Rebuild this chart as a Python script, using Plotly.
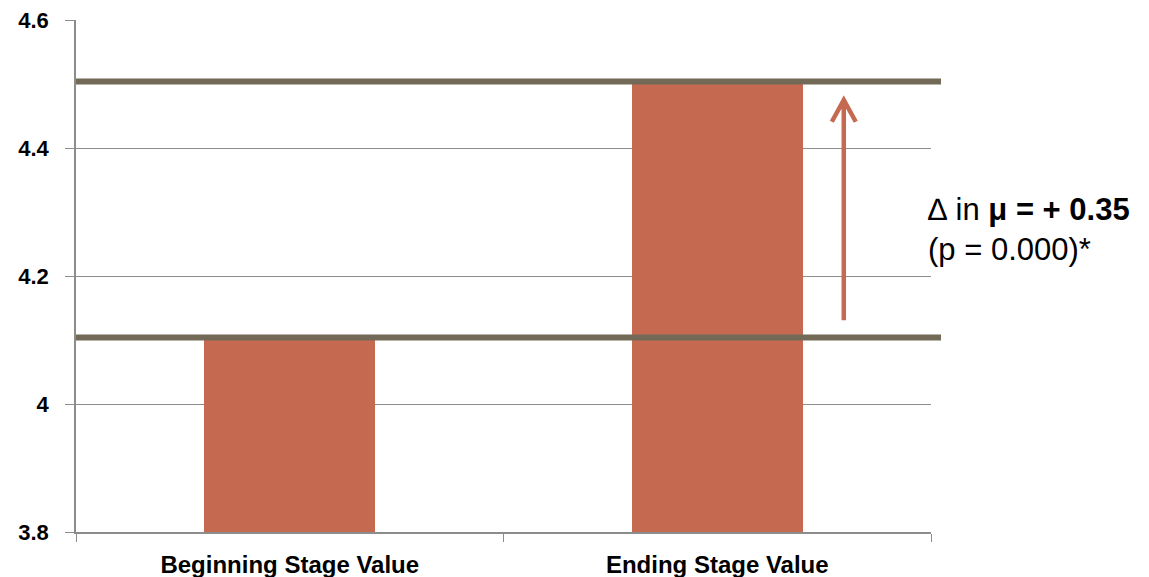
import plotly.graph_objects as go

categories = ["Beginning Stage Value", "Ending Stage Value"]
values = [4.1, 4.5]
ref_lines = [4.104, 4.504]
arrow_x = 1.296
arrow_from = 4.131
arrow_to = 4.475
y_ticks = [3.8, 4.0, 4.2, 4.4, 4.6]
y_tick_text = ["3.8", "4", "4.2", "4.4", "4.6"]

BAR = "#c56a50"
LINE = "#726a56"
GRID = "#8c8c8c"

fig = go.Figure()
fig.add_trace(go.Bar(x=categories, y=values, marker=dict(color=BAR, line=dict(width=0)),
                     width=0.4))

for v in ref_lines:
    fig.add_shape(type="line", xref="paper", yref="y", x0=0, x1=1.0117, y0=v, y1=v,
                  line=dict(color=LINE, width=6), layer="above")

# open-chevron arrow
dx, dy = 0.028, 0.034
path = (f"M {arrow_x},{arrow_from} L {arrow_x},{arrow_to} "
        f"M {arrow_x - dx},{arrow_to - dy} L {arrow_x},{arrow_to} L {arrow_x + dx},{arrow_to - dy}")
fig.add_shape(type="path", xref="x", yref="y", path=path,
              line=dict(color=BAR, width=4.5), layer="above")

fig.add_annotation(xref="paper", yref="y", x=0.9936, y=4.272, xanchor="left", yanchor="middle",
                   showarrow=False, align="left",
                   text="∆ in <b>μ = + 0.35</b><br>(p = 0.000)*",
                   font=dict(family="Liberation Sans, Arial", size=31, color="black"))

fig.update_layout(
    width=1149, height=577,
    margin=dict(l=76, r=218, t=20, b=45),
    plot_bgcolor="white", paper_bgcolor="white",
    showlegend=False, bargap=0,
    xaxis=dict(type="category", range=[-0.5, 1.5], showgrid=False, showline=True,
               linecolor=GRID, linewidth=1.5, ticks="outside", tickson="boundaries",
               ticklen=8, tickcolor=GRID, automargin=False,
               tickfont=dict(family="Liberation Sans, Arial", size=24, weight="bold",
                             color="black"),
               ticklabelstandoff=10),
    yaxis=dict(range=[3.8, 4.6], tickvals=y_ticks, ticktext=y_tick_text, showgrid=True,
               gridcolor=GRID, gridwidth=1, showline=True, linecolor=GRID, linewidth=1.5,
               ticks="outside", ticklen=9, tickcolor=GRID, zeroline=False, automargin=False,
               tickfont=dict(family="Liberation Sans, Arial", size=22, weight="bold",
                             color="black"),
               ticklabelstandoff=12),
)
fig.write_html("out.html")
